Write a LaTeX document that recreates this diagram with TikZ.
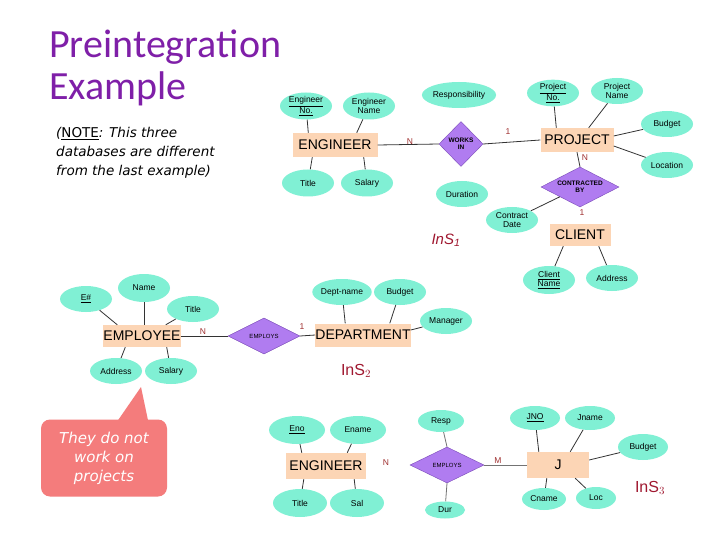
\documentclass[tikz,border=0pt]{standalone}
\usepackage{fontspec}
\setmainfont{Liberation Sans}
\newfontfamily\titlefont{Carlito}
\newfontfamily\notefont{DejaVu Sans}
\usetikzlibrary{shapes.geometric,calc}
\definecolor{aqua}{HTML}{80F0D4}
\definecolor{peach}{HTML}{FCD5B5}
\definecolor{lav}{HTML}{B07CF0}
\definecolor{lavdark}{HTML}{7A4AB8}
\definecolor{coral}{HTML}{F47C7C}
\definecolor{titlepurple}{HTML}{7F1FA8}
\definecolor{insred}{HTML}{A01830}
\definecolor{cardred}{HTML}{A03030}
\begin{document}
\begin{tikzpicture}[x=1pt,y=-1pt,
  attr/.style={ellipse, fill=aqua, minimum width=52pt, minimum height=27pt, inner sep=0pt, align=center, font=\fontsize{8.5}{9}\selectfont},
  ent/.style={rectangle, fill=peach, inner sep=0pt, font=\fontsize{14}{15}\selectfont},
  rel/.style={diamond, shape aspect=2, fill=lav, draw=lavdark, line width=0.4pt, inner sep=0pt, align=center, font=\fontsize{6.5}{7}\selectfont\bfseries},
  conn/.style={draw=black!80, line width=0.8pt},
  card/.style={text=cardred, font=\fontsize{8.5}{9}\selectfont, inner sep=0pt},
  ins/.style={text=insred, inner sep=0pt, font=\fontsize{16}{17}\selectfont}]
\useasboundingbox (0,0) rectangle (720,540);
\fill[white] (0,0) rectangle (720,540);

% title and note
\node[anchor=base west, inner sep=0pt, text=titlepurple, font=\titlefont\fontsize{40}{40}\selectfont] (t1) at (49,58) {Preintegration};
\node[anchor=base west, inner sep=0pt, text=titlepurple, font=\titlefont\fontsize{40}{40}\selectfont] (t2) at (49,100) {Example};
\node[anchor=north west, inner sep=0pt, align=left, font=\notefont\fontsize{13.5}{19}\selectfont\itshape] (note) at (56,127)
  {(\underline{\textup{NOTE}}: This three\\databases are different\\from the last example)};

% ---------------- InS1 ----------------
\node[ent, minimum width=85pt, minimum height=24pt] (eng1) at (335,145) {ENGINEER};
\node[attr] (engno1) at (306,106) {\underline{Engineer}\\\underline{No.}};
\node[attr] (engname1) at (369,106) {Engineer\\Name};
\node[attr] (title1) at (308,183) {Title};
\node[attr] (salary1) at (367,183) {Salary};
\node[attr, minimum width=72pt, minimum height=26pt] (resp1) at (459,95) {Responsibility};
\node[rel, shape aspect=1, minimum width=44pt, minimum height=45pt] (works1) at (461,144) {WORKS\\IN};
\node[ent, minimum width=73pt, minimum height=24pt] (proj1) at (577,140) {PROJECT};
\node[attr, minimum height=26pt] (projno1) at (553,93) {\underline{Project}\\\underline{No.}};
\node[attr, minimum height=26pt] (projname1) at (617,91) {Project\\Name};
\node[attr, minimum height=26pt] (budget1) at (667,124) {Budget};
\node[attr, minimum height=26pt] (loc1) at (667,165) {Location};
\node[rel, minimum width=78pt, minimum height=40pt] (contr1) at (580,187) {CONTRACTED\\BY};
\node[attr, minimum height=26pt] (dur1) at (462,194) {Duration};
\node[attr, minimum height=26pt] (cdate1) at (512,220) {Contract\\Date};
\node[ent, minimum width=61pt, minimum height=22pt] (client1) at (580,235) {CLIENT};
\node[attr, minimum height=28pt] (cname1) at (549,280) {\underline{Client}\\\underline{Name}};
\node[attr, minimum height=26pt] (addr1) at (612,278) {Address};
\node[ins, font=\fontsize{15}{16}\selectfont\itshape] (ins1) at (446,240) {InS$_{\mathit 1}$};

\draw[conn] (engno1) -- ([xshift=16pt]eng1.north west);
\draw[conn] (engname1) -- ([xshift=-21pt]eng1.north east);
\draw[conn] (title1) -- ([xshift=20pt]eng1.south west);
\draw[conn] (salary1) -- ([xshift=-14pt]eng1.south east);
\draw[conn] (eng1.east) -- (works1.west);
\draw[conn] (works1.east) -- (proj1.west);
\draw[conn] (projno1) -- ([xshift=16pt]proj1.north west);
\draw[conn] (projname1) -- ([xshift=-25pt]proj1.north east);
\draw[conn] (budget1) -- ([yshift=4pt]proj1.east);
\draw[conn] (loc1) -- ([yshift=-6pt]proj1.east);
\draw[conn] (proj1.south) -- (contr1.north);
\draw[conn] (contr1) -- (cdate1);
\draw[conn] (cname1) -- ([xshift=14pt]client1.south west);
\draw[conn] (addr1) -- ([xshift=-12pt]client1.south east);
\node[card] (c1a) at (410,142) {N};
\node[card] (c1b) at (508,132) {1};
\node[card] (c1c) at (585,158) {N};
\node[card] (c1d) at (582,213) {1};

% ---------------- InS2 ----------------
\node[ent, minimum width=77pt, minimum height=22pt] (emp2) at (142,336) {EMPLOYEE};
\node[attr, minimum height=26pt] (enum2) at (86,299) {\underline{E\#}};
\node[attr, minimum height=28pt] (name2) at (144,288) {Name};
\node[attr, minimum height=26pt] (title2) at (193,309) {Title};
\node[attr, minimum height=26pt] (addr2) at (116,371) {Address};
\node[attr, minimum height=26pt] (sal2) at (171,371) {Salary};
\node[rel, minimum width=72pt, minimum height=36pt, font=\fontsize{6}{7}\selectfont] (employs2) at (264,336) {EMPLOYS};
\node[ent, minimum width=93pt, minimum height=23pt] (dept2) at (363,335) {DEPARTMENT};
\node[attr, minimum height=26pt] (dname2) at (342,292) {Dept-name};
\node[attr, minimum height=26pt] (budget2) at (400,292) {Budget};
\node[attr, minimum height=26pt] (mgr2) at (446,321) {Manager};
\node[ins] (ins2) at (356,371) {InS$_2$};

\draw[conn] (enum2) -- ([xshift=14pt]emp2.north west);
\draw[conn] (name2) -- ([xshift=2pt]emp2.north);
\draw[conn] (title2) -- ([xshift=-15pt]emp2.north east);
\draw[conn] (addr2) -- ([xshift=22pt]emp2.south west);
\draw[conn] (sal2) -- ([xshift=-14pt]emp2.south east);
\draw[conn] (emp2.east) -- (employs2.west);
\draw[conn] (employs2.east) -- (dept2.west);
\draw[conn] (dname2) -- ([xshift=30pt]dept2.north west);
\draw[conn] (budget2) -- ([xshift=-21pt]dept2.north east);
\draw[conn] (mgr2) -- ([yshift=5pt]dept2.east);
\node[card] (c2a) at (203,332) {N};
\node[card] (c2b) at (302,327) {1};

% callout
\node[rectangle, rounded corners=9pt, fill=coral, minimum width=126pt, minimum height=77pt, inner sep=0pt,
  text=white, align=center, font=\notefont\fontsize{15}{19}\selectfont\itshape] (callout) at (104,458) {They do not\\work on\\projects};
\fill[coral] ([xshift=14pt,yshift=-1pt]callout.north) -- (141,387) -- ([xshift=44pt,yshift=-1pt]callout.north) -- cycle;

% ---------------- InS3 ----------------
\node[ent, minimum width=80pt, minimum height=26pt] (eng3) at (326,466) {ENGINEER};
\node[attr, minimum width=56pt, minimum height=28pt] (eno3) at (297,430) {\underline{Eno}};
\node[attr, minimum width=56pt, minimum height=28pt] (ename3) at (358,430) {Ename};
\node[attr, minimum width=54pt, minimum height=28pt] (title3) at (300,503) {Title};
\node[attr, minimum width=54pt, minimum height=28pt] (sal3) at (357,503) {Sal};
\node[rel, minimum width=74pt, minimum height=36pt, font=\fontsize{6}{7}\selectfont] (employs3) at (447,465) {EMPLOYS};
\node[attr, minimum width=46pt, minimum height=22pt] (resp3) at (441,421) {Resp};
\node[attr, minimum width=40pt, minimum height=17pt] (dur3) at (445,510) {Dur};
\node[ent, minimum width=62pt, minimum height=26pt] (j3) at (558,465) {J};
\node[attr, minimum width=50pt, minimum height=24pt] (jno3) at (535,418) {\underline{JNO}};
\node[attr, minimum width=50pt, minimum height=24pt] (jname3) at (590,418) {Jname};
\node[attr, minimum width=50pt, minimum height=26pt] (budget3) at (643,447) {Budget};
\node[attr, minimum width=44pt, minimum height=22pt] (cname3) at (544,499) {Cname};
\node[attr, minimum width=40pt, minimum height=22pt] (loc3) at (596,498) {Loc};
\node[ins] (ins3) at (650,488) {InS$_3$};

\draw[conn] (eno3) -- ([xshift=16pt]eng3.north west);
\draw[conn] (ename3) -- ([xshift=-19pt]eng3.north east);
\draw[conn] (title3) -- ([xshift=18pt]eng3.south west);
\draw[conn] (sal3) -- ([xshift=-12pt]eng3.south east);
\draw[conn, draw=black!55] (employs3.north) -- (resp3);
\draw[conn, draw=black!55] (employs3.south) -- (dur3);
\draw[conn, draw=black!55] (employs3.east) -- (j3.west);
\draw[conn] (jno3) -- ([xshift=12pt]j3.north west);
\draw[conn] (jname3) -- ([xshift=-19pt]j3.north east);
\draw[conn] (budget3) -- ([yshift=5pt]j3.east);
\draw[conn] (cname3) -- ([xshift=20pt]j3.south west);
\draw[conn] (loc3) -- ([xshift=-14pt]j3.south east);
\node[card] (c3a) at (386,463) {N};
\node[card] (c3b) at (498,461) {M};
\end{tikzpicture}
\end{document}
